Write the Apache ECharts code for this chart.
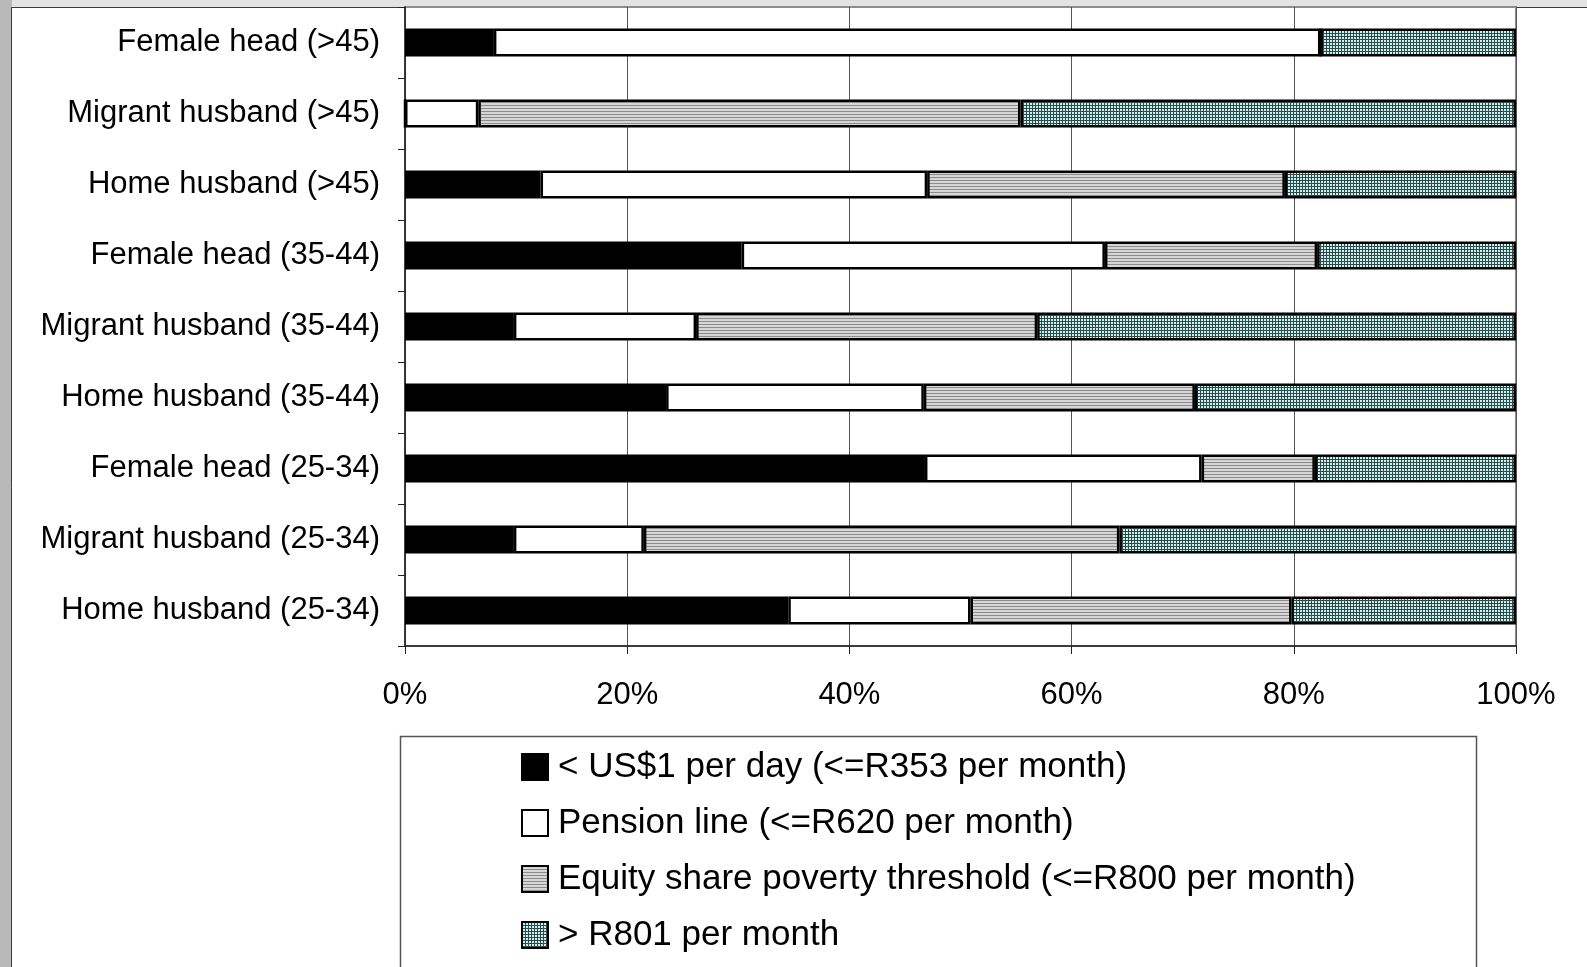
<!DOCTYPE html>
<html>
<head>
<meta charset="utf-8">
<script src="https://cdn.jsdelivr.net/npm/echarts@6/dist/echarts.min.js"></script>
<style>
  html, body { margin: 0; padding: 0; background: #c4c4c4; }
  #chart { width: 1587px; height: 967px; }
</style>
</head>
<body>
<div id="chart"></div>
<script>
// Household groups, top to bottom
const categories = [
  'Female head (>45)',
  'Migrant husband (>45)',
  'Home husband (>45)',
  'Female head (35-44)',
  'Migrant husband (35-44)',
  'Home husband (35-44)',
  'Female head (25-34)',
  'Migrant husband (25-34)',
  'Home husband (25-34)'
];

// Share of households (%) in each income band
const under1Dollar   = [8.0, 0.0, 12.2, 30.3, 9.8, 23.5, 46.8, 9.8, 34.5];
const pensionLine    = [74.4, 6.6, 34.8, 32.7, 16.4, 23.2, 24.9, 11.7, 16.4];
const equityShare    = [0.0, 48.8, 32.2, 19.1, 30.7, 24.4, 10.2, 42.8, 28.9];
const over801        = [17.6, 44.6, 20.8, 17.9, 43.1, 28.9, 18.1, 35.7, 20.2];

const seriesNames = [
  '< US$1 per day (<=R353 per month)',
  'Pension line (<=R620 per month)',
  'Equity share poverty threshold (<=R800 per month)',
  '> R801 per month'
];

const xTicks = [0, 20, 40, 60, 80, 100];

// Fill patterns
function stripePattern() {
  const c = document.createElement('canvas');
  c.width = 4; c.height = 3;
  const g = c.getContext('2d');
  g.fillStyle = '#d6d6d6'; g.fillRect(0, 0, 4, 3);
  g.fillStyle = '#8c8c8c'; g.fillRect(0, 0, 4, 1);
  return c;
}
function gridPattern() {
  const c = document.createElement('canvas');
  c.width = 3; c.height = 3;
  const g = c.getContext('2d');
  g.fillStyle = '#bff8f4'; g.fillRect(0, 0, 3, 3);
  g.fillStyle = '#3a4646';
  g.fillRect(0, 0, 3, 1);
  g.fillRect(0, 0, 1, 3);
  return c;
}

const fills = [
  '#000000',
  '#ffffff',
  { image: stripePattern(), repeat: 'repeat' },
  { image: gridPattern(), repeat: 'repeat' }
];
const values = [under1Dollar, pensionLine, equityShare, over801];

const chart = echarts.init(document.getElementById('chart'), null, { renderer: 'canvas' });

const font = '"Liberation Sans", Arial, sans-serif';

chart.setOption({
  animation: false,
  backgroundColor: 'transparent',
  graphic: [
    { type: 'rect', z: -10, shape: { x: 0, y: 0, width: 1587, height: 967 }, style: { fill: '#e3e3e3' } },
    { type: 'rect', z: -9, shape: { x: 0, y: 0, width: 12, height: 967 }, style: { fill: '#b9b9b9' } },
    { type: 'rect', z: -8, shape: { x: 11.5, y: 7.5, width: 1600, height: 1000 }, style: { fill: '#ffffff', stroke: '#3a3a3a', lineWidth: 1 } },
    { type: 'rect', z: -7, shape: { x: 400.5, y: 736.5, width: 1076, height: 300 }, style: { fill: '#ffffff', stroke: '#555555', lineWidth: 1.5 } }
  ],
  grid: {
    left: 405, right: 71, top: 7, bottom: 321,
    show: true, borderColor: '#8e8e8e', borderWidth: 2, backgroundColor: 'transparent'
  },
  legend: {
    orient: 'vertical',
    left: 516, top: 743,
    itemWidth: 26, itemHeight: 26,
    itemGap: 18,
    icon: 'rect',
    itemStyle: { borderColor: '#000', borderWidth: 2 },
    textStyle: { fontFamily: font, fontSize: 35, color: '#000', lineHeight: 38, padding: [0, 0, 0, 5] },
    data: seriesNames
  },
  xAxis: {
    type: 'value',
    min: 0, max: 100, interval: 20,
    axisLine: { show: true, lineStyle: { color: '#222', width: 1.5 } },
    axisTick: { show: true, length: 8, lineStyle: { color: '#222' } },
    splitLine: { show: true, lineStyle: { color: '#555', width: 1 } },
    axisLabel: {
      formatter: v => (xTicks.includes(v) ? v + '%' : ''),
      fontFamily: font, fontSize: 31, color: '#000', margin: 34
    }
  },
  yAxis: {
    type: 'category',
    data: categories,
    inverse: true,
    axisLine: { show: true, lineStyle: { color: '#222', width: 1.5 } },
    axisTick: { show: true, length: 7, lineStyle: { color: '#222' } },
    axisLabel: { fontFamily: font, fontSize: 31, color: '#000', margin: 25 }
  },
  series: seriesNames.map((name, i) => ({
    name,
    type: 'bar',
    stack: 'total',
    barWidth: 28,
    data: values[i],
    itemStyle: { color: fills[i], borderColor: '#000', borderWidth: 2.5 }
  }))
});
</script>
</body>
</html>
